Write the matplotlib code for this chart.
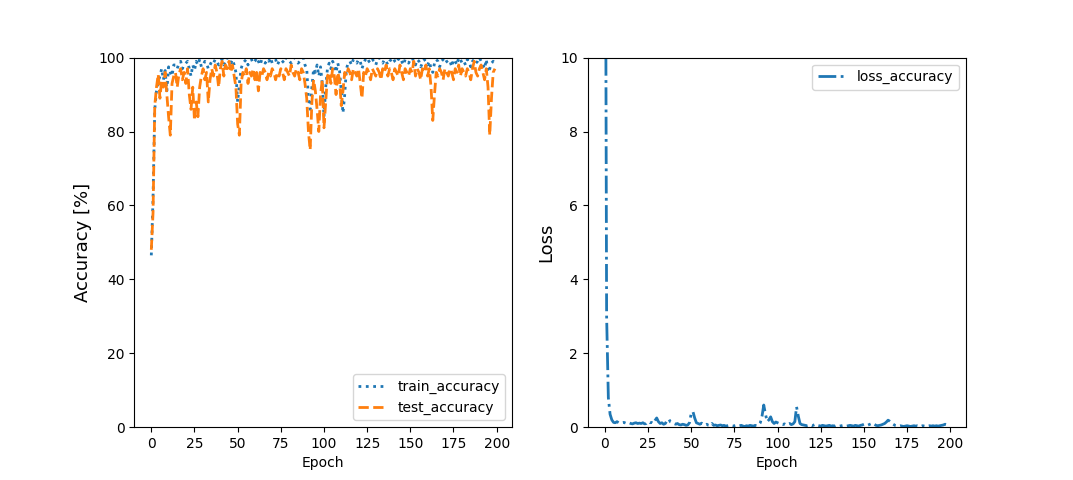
import numpy as np
import matplotlib
matplotlib.use('Agg')
import matplotlib.pyplot as plt

epochs = list(range(200))

train_accuracy = [
    46.5, 62, 86, 91, 93.5, 95, 97, 94, 96.5, 91,
    97.5, 96, 95, 98, 98, 97, 98.5, 99, 97, 98,
    98.5, 99, 97, 95, 98, 96.5, 99, 98, 99.5, 97.5,
    98, 99, 98.5, 97, 98, 99, 98.5, 99.5, 99, 98,
    99, 99.5, 98, 99, 100, 99, 98.5, 99.5, 98, 96,
    88, 93, 97, 98.5, 99, 99.5, 98, 99, 99.5, 98.5,
    99, 100, 99, 98, 99.5, 99, 98.5, 99.5, 99, 100,
    98.5, 99, 99.5, 98, 99, 99.5, 99, 98.5, 100, 99.5,
    99, 98.5, 99.5, 100, 99, 98.5, 99, 99.5, 100, 98,
    97, 89, 86, 92, 97, 96, 98, 95, 97.5, 93,
    84, 92, 97, 98.5, 97, 99, 98, 96, 98.5, 96.5,
    91, 85, 90, 97, 98.5, 99, 98, 99.5, 99, 98.5,
    99.5, 99, 97, 98.5, 99.5, 100, 99, 98.5, 99.5, 99,
    98, 99.5, 100, 99, 98.5, 99.5, 99, 98, 99, 99.5,
    100, 99, 98.5, 99.5, 100, 99, 98, 99.5, 99, 98.5,
    99.5, 100, 99, 98, 99.5, 99, 97.5, 98.5, 99.5, 99,
    98, 99, 97, 96, 98.5, 99.5, 99, 97.5, 99, 99.5,
    100, 99, 98.5, 99, 97.5, 99.5, 99, 98, 100, 99.5,
    98.5, 99, 98, 99.5, 99, 97.5, 99, 99.5, 98.5, 99,
    100, 99, 98, 97, 99.5, 96, 97, 98.5, 99, 98.5,
]

test_accuracy = [
    48, 58, 87, 92, 95.5, 89, 94, 92, 96, 90,
    84, 79, 93, 95, 96, 92, 95.5, 97, 94, 96,
    93, 97, 90, 86, 92, 83, 88, 84, 92, 95,
    97, 94, 96, 88, 94, 97, 95, 98, 96, 92,
    97, 99, 95, 98, 97, 99, 96, 98, 95, 92,
    82, 79, 93, 96, 95, 97, 93, 96, 95, 97,
    94, 96, 91, 96, 95, 97, 96, 94, 96, 95,
    97, 96, 94, 96, 95, 97, 96, 94, 97, 96,
    95, 98, 96, 95, 97, 96, 94, 97, 96, 93,
    89, 80, 75, 88, 94, 91, 86, 80, 90, 94,
    81, 88, 95, 96, 93, 97, 95, 90, 96, 94,
    87, 91, 96, 95, 97, 96, 94, 97, 96, 95,
    97, 93, 89, 96, 95, 97, 96, 94, 97, 96,
    95, 97, 96, 94, 97, 96, 98, 95, 97, 96,
    94, 97, 96, 95, 98, 96, 94, 97, 96, 95,
    97, 96, 99, 95, 97, 96, 94, 97, 96, 98,
    95, 97, 92, 83, 90, 96, 95, 97, 96, 94,
    97, 96, 95, 97, 96, 94, 97, 96, 98, 95,
    97, 96, 95, 97, 96, 94, 97, 99, 96, 95,
    97, 98, 96, 94, 97, 92, 79, 89, 96, 97,
]

loss_accuracy = [
    20, 3.0, 0.8, 0.35, 0.2, 0.13, 0.12, 0.15, 0.12, 0.11,
    0.12, 0.13, 0.11, 0.1, 0.12, 0.1, 0.09, 0.11, 0.12, 0.1,
    0.11, 0.1, 0.12, 0.09, 0.1, 0.15, 0.12, 0.13, 0.1, 0.18,
    0.25, 0.15, 0.1, 0.12, 0.08, 0.1, 0.18, 0.22, 0.14, 0.12,
    0.1, 0.08, 0.1, 0.07, 0.06, 0.08, 0.07, 0.05, 0.06, 0.12,
    0.38, 0.42, 0.25, 0.12, 0.1, 0.08, 0.11, 0.07, 0.06, 0.08,
    0.05, 0.04, 0.1, 0.05, 0.06, 0.04, 0.05, 0.06, 0.04, 0.05,
    0.03, 0.04, 0.05, 0.04, 0.03, 0.04, 0.05, 0.03, 0.04, 0.05,
    0.03, 0.02, 0.04, 0.03, 0.05, 0.04, 0.03, 0.05, 0.04, 0.06,
    0.12, 0.3, 0.6, 0.35, 0.15, 0.2, 0.28, 0.15, 0.1, 0.14,
    0.12, 0.1, 0.08, 0.07, 0.09, 0.06, 0.08, 0.1, 0.07, 0.09,
    0.15, 0.55, 0.3, 0.1, 0.07, 0.06, 0.05, 0.04, 0.05, 0.06,
    0.04, 0.06, 0.08, 0.05, 0.04, 0.03, 0.05, 0.04, 0.03, 0.04,
    0.05, 0.03, 0.04, 0.03, 0.05, 0.04, 0.03, 0.04, 0.05, 0.04,
    0.03, 0.04, 0.05, 0.04, 0.03, 0.05, 0.04, 0.03, 0.05, 0.06,
    0.08, 0.06, 0.05, 0.07, 0.09, 0.11, 0.08, 0.05, 0.04, 0.05,
    0.06, 0.08, 0.1, 0.14, 0.19, 0.16, 0.12, 0.08, 0.05, 0.04,
    0.03, 0.04, 0.03, 0.02, 0.03, 0.04, 0.03, 0.02, 0.03, 0.04,
    0.03, 0.04, 0.03, 0.02, 0.04, 0.03, 0.02, 0.03, 0.04, 0.03,
    0.04, 0.03, 0.04, 0.03, 0.04, 0.05, 0.06, 0.08, 0.07, 0.05,
]

fig, (ax1, ax2) = plt.subplots(1, 2, figsize=(10.73, 4.8), dpi=100)

ax1.plot(epochs, train_accuracy, linestyle=':', linewidth=2, label='train_accuracy')
ax1.plot(epochs, test_accuracy, linestyle='--', linewidth=2, label='test_accuracy')
ax1.set_xlabel('Epoch')
ax1.set_ylabel('Accuracy [%]', fontsize=13)
ax1.set_ylim(0, 100)
ax1.legend(loc='lower right')

ax2.plot(epochs, loss_accuracy, linestyle='-.', linewidth=2, label='loss_accuracy')
ax2.set_xlabel('Epoch')
ax2.set_ylabel('Loss', fontsize=13)
ax2.set_ylim(0, 10)
ax2.legend(loc='upper right')

fig.savefig('out.png')
